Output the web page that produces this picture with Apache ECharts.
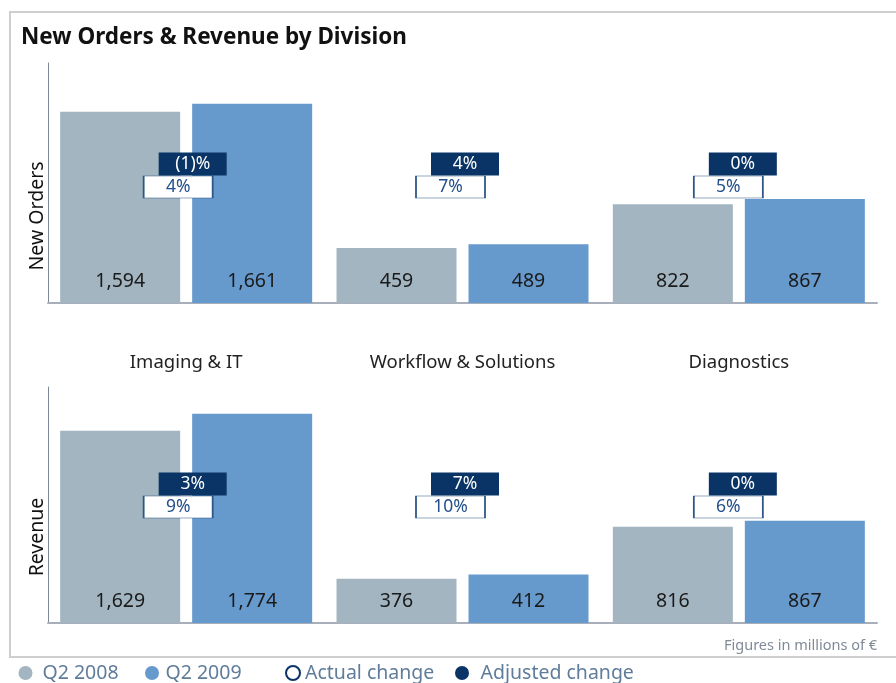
<!DOCTYPE html>
<html><head><meta charset="utf-8">
<script src="https://cdn.jsdelivr.net/npm/echarts@6/dist/echarts.min.js"></script>
<style>html,body{margin:0;padding:0;background:#fff}#c{width:896px;height:683px}</style>
</head><body><div id="c"></div>
<script>
const categories = ['Imaging & IT', 'Workflow & Solutions', 'Diagnostics'];
const seriesNames = ['Q2 2008', 'Q2 2009', 'Actual change', 'Adjusted change'];
const ordersQ2008 = [1594, 459, 822];
const ordersQ2009 = [1661, 489, 867];
const ordersActual = ['4%', '7%', '5%'];
const ordersAdjusted = ['(1)%', '4%', '0%'];
const revenueQ2008 = [1629, 376, 816];
const revenueQ2009 = [1774, 412, 867];
const revenueActual = ['9%', '10%', '6%'];
const revenueAdjusted = ['3%', '7%', '0%'];
const panelNames = ['New Orders', 'Revenue'];
const yMax = 2000;

// layout constants (not data)
const boxShift = [2.5, -1.5, 0];
const FONT = '"Noto Sans", "Open Sans", sans-serif';
const GRAY = '#a2b5c0', BLUE = '#6699cc', NAVY = '#0a3466';

const chart = echarts.init(document.getElementById('c'), null, {renderer: 'canvas'});

function fmt(v) { return v.toLocaleString('en-US'); }

function barSeries(name, data, color, idx) {
  return {
    name: name, type: 'bar', xAxisIndex: idx, yAxisIndex: idx,
    data: data, barWidth: 120, barGap: '10%',
    itemStyle: {color: color},
    label: {show: true, position: 'insideBottom', distance: 12,
      formatter: p => fmt(p.value), color: '#1a1a1a', fontSize: 19.5, fontFamily: FONT},
    emphasis: {disabled: true}, z: 2
  };
}
function boxSeries(name, texts, idx, yVal, dark) {
  const base = dark ? 4 : -10.5;
  return {
    name: name, type: 'scatter', xAxisIndex: idx, yAxisIndex: idx,
    data: texts.map((t, i) => ({
      value: [i, yVal],
      symbolOffset: [base + boxShift[i], 0],
      label: {formatter: t}
    })),
    symbol: 'rect',
    symbolSize: dark ? [68, 23] : [69, 22],
    itemStyle: dark ? {color: NAVY, opacity: 1} : {color: '#fff', borderColor: '#2d5585', borderWidth: 1, opacity: 1},
    label: {show: true, position: 'inside',
      color: dark ? '#fff' : '#24508a', fontSize: 17.5, fontFamily: FONT},
    emphasis: {disabled: true}, silent: true, z: dark ? 6 : 5
  };
}

const grids = [
  {left: 48, right: 19, top: 63, height: 240},
  {left: 48, right: 19, top: 387, height: 236}
];
const xAxes = grids.map((g, i) => ({
  type: 'category', gridIndex: i, data: categories,
  axisLine: {show: true, lineStyle: {color: '#a9aebb', width: 2}},
  axisTick: {show: false},
  axisLabel: {show: i === 0, margin: 50, color: '#222', fontSize: 18.5, fontFamily: FONT, verticalAlign: 'top'}
}));
const yAxes = grids.map((g, i) => ({
  type: 'value', gridIndex: i, min: 0, max: yMax,
  axisLine: {show: true, lineStyle: {color: '#7d8899', width: 1}},
  axisTick: {show: false}, axisLabel: {show: false}, splitLine: {show: false}
}));

// icon centres and extra text gap for each legend entry (layout only)
const ICON = 14;
const legendIconCenter = [25.5, 152, 292, 462];
const legendTextExtra = [5, 1.5, 0, 6.5];
const legendStyles = [
  {},
  {},
  {itemStyle: {color: '#fff', borderColor: NAVY, borderWidth: 2}},
  {itemStyle: {color: NAVY}}
];
const legends = seriesNames.map((n, i) => ({
  left: legendIconCenter[i] - ICON / 2, top: 663,
  itemWidth: ICON, itemHeight: ICON, icon: 'circle',
  textStyle: {color: '#5f7c9a', fontSize: 19.5, fontFamily: FONT, padding: [0, 0, 0, legendTextExtra[i]]},
  data: [Object.assign({name: n}, legendStyles[i])],
  selectedMode: false, padding: 0
}));

const option = {
  animation: false,
  backgroundColor: '#fff',
  title: {text: 'New Orders & Revenue by Division', left: 16, top: 21,
    textStyle: {fontSize: 22.5, fontWeight: 'bold', color: '#111', fontFamily: FONT}},
  legend: legends,
  grid: grids,
  xAxis: xAxes,
  yAxis: yAxes,
  series: [
    barSeries(seriesNames[0], ordersQ2008, GRAY, 0),
    barSeries(seriesNames[1], ordersQ2009, BLUE, 0),
    boxSeries(seriesNames[2], ordersActual, 0, 967, false),
    boxSeries(seriesNames[3], ordersAdjusted, 0, 1158, true),
    barSeries(seriesNames[0], revenueQ2008, GRAY, 1),
    barSeries(seriesNames[1], revenueQ2009, BLUE, 1),
    boxSeries(seriesNames[2], revenueActual, 1, 983, false),
    boxSeries(seriesNames[3], revenueAdjusted, 1, 1178, true)
  ],
  graphic: [
    {type: 'rect', shape: {x: 10, y: 12, width: 900, height: 645}, style: {fill: 'none', stroke: '#cfcfcf', lineWidth: 2}, z: -1},
    {type: 'text', x: 37, y: 216, rotation: Math.PI / 2, style: {text: panelNames[0], fill: '#111', fontSize: 19.5, fontFamily: FONT, align: 'center', verticalAlign: 'middle'}},
    {type: 'text', x: 37, y: 537, rotation: Math.PI / 2, style: {text: panelNames[1], fill: '#111', fontSize: 19.5, fontFamily: FONT, align: 'center', verticalAlign: 'middle'}},
    {type: 'text', x: 877, y: 646, style: {text: 'Figures in millions of €', fill: '#7f8a99', fontSize: 14.5, fontFamily: FONT, align: 'right', verticalAlign: 'middle'}}
  ]
};
chart.setOption(option);
</script></body></html>
